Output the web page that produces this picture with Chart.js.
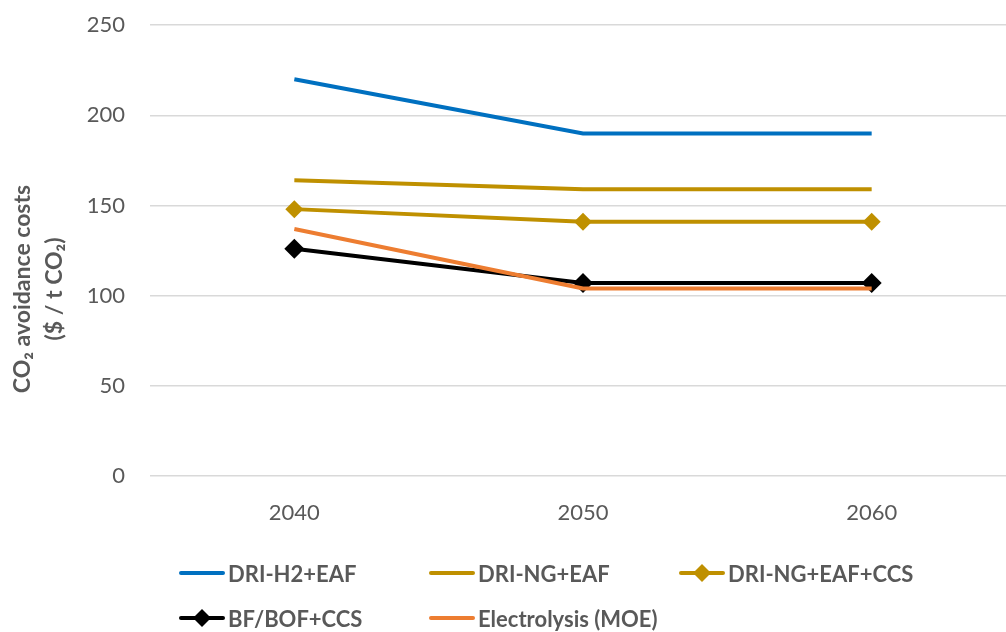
<!DOCTYPE html>
<html>
<head>
<meta charset="utf-8">
<script src="https://cdn.jsdelivr.net/npm/chart.js@4"></script>
<style>
  html, body { margin: 0; padding: 0; background: #fff; overflow: hidden; width: 1006px; height: 632px; }
  #wrap { position: absolute; left: 0; top: -13px; width: 1016px; height: 558px; }
  #legend { position: absolute; left: 0; top: 0; width: 1006px; height: 632px; pointer-events: none;
    font-family: Lato, "Open Sans", sans-serif; font-size: 22px; font-weight: bold; color: #595959; }
  .item { position: absolute; display: flex; align-items: center; height: 28px; white-space: nowrap; }
  .item svg { margin-right: 3px; }
</style>
</head>
<body>
<div id="wrap"><canvas id="chart"></canvas></div>
<div id="legend"></div>
<script>
const years = ["2040", "2050", "2060"];
const seriesNames = ["DRI-H2+EAF", "DRI-NG+EAF", "DRI-NG+EAF+CCS", "BF/BOF+CCS", "Electrolysis (MOE)"];
const driH2 = [220, 190, 190];
const driNg = [164, 159, 159];
const driNgCcs = [148, 141, 141];
const bfBofCcs = [126, 107, 107];
const electrolysis = [137, 104, 104];
const yTicks = [0, 50, 100, 150, 200, 250];
const yTitle = ["CO\u2082 avoidance costs", "($ / t CO\u2082)"];

const colors = ["#0070C0", "#BF9000", "#BF9000", "#000000", "#ED7D31"];
const markers = [false, false, true, true, false];
const values = [driH2, driNg, driNgCcs, bfBofCcs, electrolysis];
const drawOrder = [1, 3, 2, 4, 0];

const fontFamily = "Lato, 'Open Sans', sans-serif";

const datasets = seriesNames.map((name, i) => ({
  label: name,
  data: values[i],
  borderColor: colors[i],
  backgroundColor: colors[i],
  borderWidth: 4,
  pointStyle: "rectRot",
  pointRadius: markers[i] ? (i === 3 ? 10 : 9) : 0,
  pointHoverRadius: markers[i] ? 10 : 0,
  pointBorderWidth: 0,
  order: drawOrder[i],
  tension: 0,
}));

// y title drawn by hand: Excel centres it lower than the plot middle
// (canvas sits 13px above the page top, hence 289 + 13)
const yTitlePlugin = {
  id: "yTitle",
  afterDraw(chart) {
    const ctx = chart.ctx;
    ctx.save();
    ctx.translate(0, 302);
    ctx.rotate(-Math.PI / 2);
    ctx.fillStyle = "#595959";
    ctx.font = `bold 23px ${fontFamily}`;
    ctx.textAlign = "center";
    ctx.textBaseline = "middle";
    ctx.fillText(yTitle[0], 0, 23);
    ctx.fillText(yTitle[1], 0, 55);
    ctx.restore();
  },
};

new Chart(document.getElementById("chart"), {
  type: "line",
  data: { labels: years, datasets },
  plugins: [yTitlePlugin],
  options: {
    responsive: true,
    maintainAspectRatio: false,
    animation: false,
    layout: { autoPadding: false, padding: { left: 0, right: 0, top: 12, bottom: 0 } },
    plugins: { legend: { display: false }, tooltip: { enabled: false } },
    scales: {
      x: {
        offset: true,
        grid: { display: false, drawTicks: false },
        border: { display: false },
        ticks: { color: "#595959", font: { family: fontFamily, size: 22 }, padding: 24 },
        afterFit: axis => { axis.height = 69; },
      },
      y: {
        min: 0,
        max: 250,
        afterBuildTicks: axis => { axis.ticks = yTicks.map(v => ({ value: v })); },
        grid: { color: "#D9D9D9", lineWidth: 1.5, drawTicks: false },
        border: { display: false },
        ticks: { color: "#595959", font: { family: fontFamily, size: 22 }, padding: 25 },
        afterFit: axis => { axis.width = 150; },
      },
    },
  },
});

// legend built from the same series arrays, laid out in Excel-style columns
const legend = document.getElementById("legend");
const colX = [179, 429, 679];
const rowY = [573, 618];
seriesNames.forEach((name, i) => {
  const div = document.createElement("div");
  div.className = "item";
  div.style.left = colX[i % 3] + "px";
  div.style.top = (rowY[Math.floor(i / 3)] - 14) + "px";
  const diamond = markers[i]
    ? `<polygon points="23,2 32,11 23,20 14,11" fill="${colors[i]}"/>`
    : "";
  div.innerHTML = `<svg width="46" height="22"><line x1="2" y1="11" x2="44" y2="11" stroke="${colors[i]}" stroke-width="4" stroke-linecap="round"/>${diamond}</svg><span>${name}</span>`;
  legend.appendChild(div);
});
</script>
</body>
</html>
